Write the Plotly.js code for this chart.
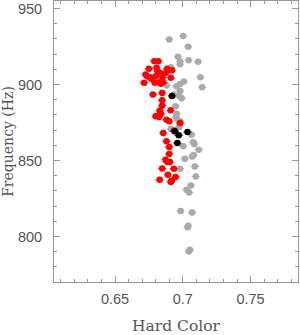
<!DOCTYPE html>
<html><head><meta charset="utf-8">
<script src="https://cdn.plot.ly/plotly-3.0.1.min.js"></script>
<style>html,body{margin:0;padding:0;background:#fff}#c{width:300px;height:335px}</style>
</head><body><div id="c"></div>
<script>
// Red group
const redX = [0.679,0.682,0.675,0.6807,0.6814,0.6885,0.692,0.6726,0.6738,0.6757,0.677,0.680,0.683,0.685,0.6875,0.6912,0.6715,0.6794,0.6826,0.6838,0.6856,0.678,0.6848,0.6848,0.6848,0.683,0.691,0.6838,0.680,0.6824,0.688,0.690,0.698,0.6856,0.6937,0.688,0.690,0.690,0.6873,0.6887,0.6905,0.6848,0.6934,0.689,0.683,0.6917,0.6912,0.6947];
const redY = [915.4,915.4,910.4,911,908.8,910.4,909.4,906.6,905.5,904.8,903.8,905.5,907.7,904.8,907.7,904.4,901.1,901.1,901.5,900.5,901.5,893.4,894.5,889.6,886.1,882.8,883,880.7,879.1,878.7,876.9,875.8,874.7,868.1,869.7,862.6,858.9,854.3,850.5,849,849,844.8,844.6,840.6,837.3,836.7,835.8,839.2];
// Grey group
const greyX = [0.7003,0.690,0.704,0.6964,0.698,0.698,0.7043,0.7113,0.6912,0.713,0.7143,0.7008,0.698,0.6954,0.688,0.698,0.6934,0.6974,0.6992,0.6947,0.6954,0.695,0.6954,0.698,0.6974,0.6912,0.7065,0.7077,0.7084,0.7118,0.7003,0.708,0.707,0.7015,0.7089,0.698,0.7096,0.706,0.7028,0.7047,0.6984,0.7069,0.704,0.7035,0.7052,0.7045];
const greyY = [931.9,929.7,924.9,918.3,915.2,913.4,916,915,911.4,904.8,898.2,902,900.3,898.9,899.3,895.8,893.4,892.3,891,885.7,880.7,879.1,877.6,875.8,872.1,870.8,867,862,860.9,857.1,859.3,853.6,852.7,851.2,846.1,844.6,839.5,833.6,830.7,829,816.7,815.8,807,806.1,791.2,790];
// Black group
const blackX = [0.692,0.694,0.697,0.696,0.7035];
const blackY = [892.5,869.2,866.6,861.5,868.8];

const xTicks = [0.65,0.7,0.75];
const xTickText = ['0.65','0.7','0.75'];
const yTicks = [800,850,900,950];

function tr(x,y,color){
  return {type:'scatter',mode:'markers',x:x,y:y,
    marker:{color:color,size:6.5,line:{width:0}},
    error_x:{type:'constant',value:0.003,color:color,thickness:1,width:0},
    error_y:{type:'constant',value:1.6,color:color,thickness:1,width:0},
    hoverinfo:'skip',showlegend:false};
}
const axCommon = {showline:true,linecolor:'#999',linewidth:1,mirror:'ticks',ticks:'inside',
  tickcolor:'#999',ticklen:6,tickwidth:1,showgrid:false,zeroline:false,
  tickfont:{family:'Liberation Sans, Arial, sans-serif',size:14.5,color:'#555'}};
const layout = {
  width:300,height:335,margin:{l:54,r:2,t:1,b:53},
  paper_bgcolor:'#fff',plot_bgcolor:'#fff',
  xaxis:Object.assign({},axCommon,{range:[0.605,0.785],tickvals:xTicks,ticktext:xTickText,
    minor:{dtick:0.01,tick0:0.6,ticklen:3,ticks:'inside',tickcolor:'#999'},ticklabelstandoff:4,
    title:{text:'Hard Color',font:{family:'DejaVu Serif, serif',size:15.5,color:'#555'},standoff:18}}),
  yaxis:Object.assign({},axCommon,{range:[770,955],tickvals:yTicks,
    minor:{dtick:10,tick0:0,ticklen:3,ticks:'inside',tickcolor:'#999'},ticklabelstandoff:8,
    title:{text:'Frequency (Hz)',font:{family:'DejaVu Serif, serif',size:14,color:'#555'},standoff:1}})
};
Plotly.newPlot('c',[tr(greyX,greyY,'#aaaaaa'),tr(redX,redY,'#ff0000'),tr(blackX,blackY,'#000000')],layout,{displayModeBar:false,staticPlot:true});
</script></body></html>
